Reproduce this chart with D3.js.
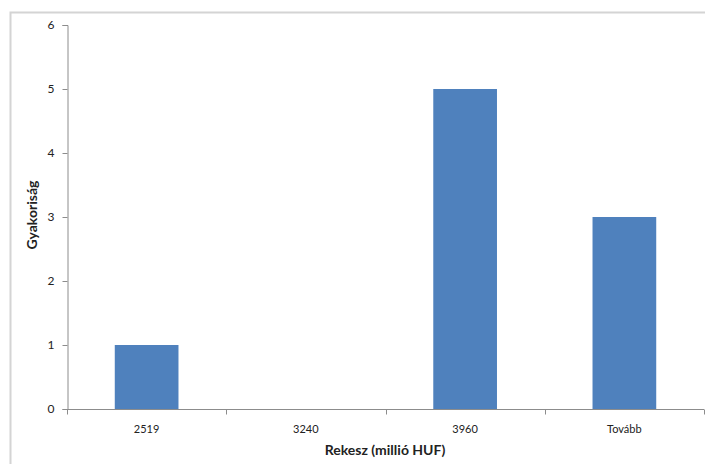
<!DOCTYPE html>
<html>
<head>
<meta charset="utf-8">
<script src="https://cdn.jsdelivr.net/npm/d3@7"></script>
<style>
  html, body { margin: 0; padding: 0; background: #fff; }
  svg { display: block; }
  text { font-family: Lato, "Open Sans", "Liberation Sans", sans-serif; fill: #222; }
</style>
</head>
<body>
<svg id="chart" width="705" height="464"></svg>
<script>
// Histogram bins and frequencies
const categories = ["2519", "3240", "3960", "Tovább"];
const frequencies = [1, 0, 5, 3];
const yTicks = [0, 1, 2, 3, 4, 5, 6];
const xTitle = "Rekesz (millió HUF)";
const yTitle = "Gyakoriság";

const svg = d3.select("#chart");
const W = 705, H = 464;
const m = { left: 67, right: 1, top: 25, bottom: 55 };

// Chart frame
svg.append("rect")
  .attr("x", 10.5).attr("y", 12.5)
  .attr("width", W + 10).attr("height", H + 10)
  .attr("fill", "#fff").attr("stroke", "#d4d4d4").attr("stroke-width", 2);

const x = d3.scaleBand()
  .domain(categories)
  .range([m.left, W - m.right])
  .paddingInner(0.6).paddingOuter(0.3);

const y = d3.scaleLinear()
  .domain([0, 6])
  .range([H - m.bottom, m.top]);

// Bars
svg.append("g").selectAll("rect")
  .data(categories.map((c, i) => ({ c, v: frequencies[i] })))
  .join("rect")
  .attr("x", d => x(d.c))
  .attr("width", x.bandwidth())
  .attr("y", d => y(d.v))
  .attr("height", d => y(0) - y(d.v))
  .attr("fill", "#4F81BD");

// Y axis
const yAxis = svg.append("g")
  .attr("transform", `translate(${m.left + 0.5},0)`)
  .call(d3.axisLeft(y).tickValues(yTicks).tickFormat(d3.format("d")).tickSize(5).tickPadding(8));
yAxis.select(".domain").attr("stroke", "#8c8c8c");
yAxis.selectAll(".tick line").attr("stroke", "#8c8c8c");
yAxis.selectAll(".tick text").attr("font-size", 12).style("font-family", "Lato, 'Open Sans', sans-serif").attr("fill", "#222");

// X axis with ticks at band boundaries
const xAxisG = svg.append("g").attr("transform", `translate(0,${y(0) + 0.5})`);
xAxisG.append("line")
  .attr("x1", m.left).attr("x2", W - m.right)
  .attr("stroke", "#8c8c8c");
const bounds = d3.range(categories.length + 1).map(i => m.left + i * (W - m.right - m.left) / categories.length);
xAxisG.selectAll("line.tk").data(bounds).join("line")
  .attr("class", "tk")
  .attr("x1", d => Math.round(d) + 0.5).attr("x2", d => Math.round(d) + 0.5)
  .attr("y1", 0).attr("y2", 5)
  .attr("stroke", "#8c8c8c");
xAxisG.selectAll("text").data(categories).join("text")
  .attr("x", d => x(d) + x.bandwidth() / 2)
  .attr("y", 23)
  .attr("text-anchor", "middle")
  .attr("font-size", 11)
  .text(d => d);

// Axis titles
svg.append("text")
  .attr("x", 385).attr("y", 455)
  .attr("text-anchor", "middle")
  .attr("font-size", 14).attr("font-weight", "bold")
  .text(xTitle);

svg.append("text")
  .attr("transform", `translate(37,215) rotate(-90)`)
  .attr("text-anchor", "middle")
  .attr("font-size", 14).attr("font-weight", "bold")
  .text(yTitle);
</script>
</body>
</html>
